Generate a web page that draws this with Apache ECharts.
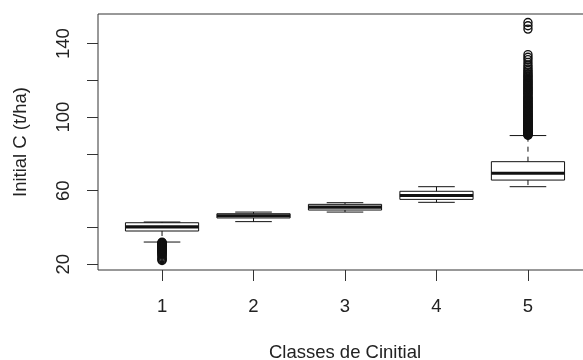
<!DOCTYPE html>
<html>
<head>
<meta charset="utf-8">
<script src="https://cdn.jsdelivr.net/npm/echarts@6/dist/echarts.min.js"></script>
<style>
  html, body { margin: 0; padding: 0; background: #fff; }
  #chart { width: 583px; height: 360px; }
</style>
</head>
<body>
<div id="chart"></div>
<script>
// Classes of initial carbon stock and their box statistics (t/ha)
const classes = [1, 2, 3, 4, 5];
const whiskerLow  = [32.1, 43.2, 48.4, 53.7, 62.2];
const quart1      = [38.1, 45.2, 49.5, 55.3, 65.8];
const median      = [40.4, 46.4, 51.1, 57.4, 69.5];
const quart3      = [42.6, 47.5, 52.6, 59.7, 75.8];
const whiskerHigh = [43.0, 48.4, 53.5, 62.2, 90.0];

// Outlying observations per class
const outliersClass1 = [32.0, 31.8, 31.6, 31.4, 31.2, 31.0, 30.8, 30.6, 30.4, 30.2,
  30.0, 29.8, 29.6, 29.4, 29.2, 29.0, 28.8, 28.5, 28.3, 28.1, 27.8, 27.6, 27.3,
  27.1, 26.8, 26.5, 26.1, 25.8, 25.4, 24.9, 24.3, 23.6, 23.0, 22.5, 22.1];
const outliersClass5 = [90.2, 90.4, 90.6, 90.9, 91.1, 91.3, 91.6, 91.8, 92.1, 92.3,
  92.6, 92.9, 93.1, 93.4, 93.7, 94.0, 94.2, 94.5, 94.8, 95.1, 95.4, 95.7, 96.0,
  96.3, 96.6, 96.9, 97.2, 97.6, 97.9, 98.2, 98.5, 98.9, 99.2, 99.6, 99.9, 100.3,
  100.6, 101.0, 101.3, 101.7, 102.1, 102.4, 102.8, 103.2, 103.6, 104.0, 104.4,
  104.8, 105.2, 105.6, 106.0, 106.4, 106.9, 107.3, 107.7, 108.2, 108.6, 109.1,
  109.5, 110.0, 110.5, 110.9, 111.3, 112.2, 112.6, 113.1, 113.6, 114.1, 114.6,
  115.1, 115.6, 116.1, 116.6, 117.2, 117.7, 118.3, 118.8, 119.4, 119.9, 120.5,
  121.1, 121.8, 122.4, 123.0, 123.7, 124.5, 125.3, 126.2, 127.3, 128.4, 129.8,
  131.3, 132.6, 134.0, 147.9, 149.7, 151.5];

// Axis ticks and labels
const yTicks = [20, 40, 60, 80, 100, 120, 140];
const yLabels = [20, 60, 100, 140];

const boxData = classes.map((c, i) =>
  [c, whiskerLow[i], quart1[i], median[i], quart3[i], whiskerHigh[i]]);
const outlierData = []
  .concat(outliersClass1.map(v => [1, v]))
  .concat(outliersClass5.map(v => [5, v]));

const ink = '#111';
const textColor = '#222';
const fontFamily = "'Liberation Sans', Arial, sans-serif";
const fontSize = 18.5;

function renderBox(params, api) {
  const x = api.value(0);
  const pLow = api.coord([x, api.value(1)]);
  const pQ1 = api.coord([x, api.value(2)]);
  const pMed = api.coord([x, api.value(3)]);
  const pQ3 = api.coord([x, api.value(4)]);
  const pHigh = api.coord([x, api.value(5)]);
  const halfBox = api.size([0.8, 0])[0] / 2;
  const halfCap = halfBox / 2;
  const cx = pMed[0];
  const thin = { stroke: ink, lineWidth: 1, fill: null };
  const dashed = { stroke: ink, lineWidth: 1, lineDash: [5, 5] };
  return {
    type: 'group',
    children: [
      { type: 'line', shape: { x1: cx, y1: pQ3[1], x2: cx, y2: pHigh[1] }, style: dashed },
      { type: 'line', shape: { x1: cx, y1: pQ1[1], x2: cx, y2: pLow[1] }, style: dashed },
      { type: 'line', shape: { x1: cx - halfCap, y1: pHigh[1], x2: cx + halfCap, y2: pHigh[1] }, style: thin },
      { type: 'line', shape: { x1: cx - halfCap, y1: pLow[1], x2: cx + halfCap, y2: pLow[1] }, style: thin },
      { type: 'rect', shape: { x: cx - halfBox, y: pQ3[1], width: 2 * halfBox, height: pQ1[1] - pQ3[1] }, style: thin },
      { type: 'line', shape: { x1: cx - halfBox, y1: pMed[1], x2: cx + halfBox, y2: pMed[1] },
        style: { stroke: ink, lineWidth: 3.2 } }
    ]
  };
}

const chart = echarts.init(document.getElementById('chart'), null, { renderer: 'canvas' });
chart.setOption({
  animation: false,
  backgroundColor: '#fff',
  grid: {
    left: 98, top: 14, right: -9, bottom: 90,
    containLabel: false,
    outerBoundsMode: 'none',
    show: true, borderColor: '#333', borderWidth: 1, backgroundColor: 'transparent'
  },
  xAxis: {
    type: 'value',
    min: 0.3, max: 5.7,
    name: 'Classes de Cinitial',
    nameLocation: 'middle',
    nameGap: 73,
    nameTextStyle: { color: textColor, fontSize: fontSize, fontFamily: fontFamily },
    axisLine: { show: false },
    axisTick: { show: true, inside: false, length: 11, customValues: classes,
      lineStyle: { color: '#333', width: 1 } },
    axisLabel: { customValues: classes, margin: 27, color: textColor, fontSize: fontSize, fontFamily: fontFamily },
    splitLine: { show: false }
  },
  yAxis: {
    type: 'value',
    min: 16.9, max: 156.1,
    name: 'Initial C (t/ha)',
    nameLocation: 'middle',
    nameGap: 68,
    nameRotate: 90,
    nameTextStyle: { color: textColor, fontSize: fontSize, fontFamily: fontFamily },
    axisLine: { show: false },
    axisTick: { show: true, inside: false, length: 11, customValues: yTicks,
      lineStyle: { color: '#333', width: 1 } },
    axisLabel: { customValues: yLabels, rotate: 90, margin: 25, color: textColor, fontSize: fontSize, fontFamily: fontFamily },
    splitLine: { show: false }
  },
  series: [
    {
      type: 'custom',
      renderItem: renderBox,
      data: boxData,
      encode: { x: 0, y: [1, 2, 3, 4, 5] },
      clip: true,
      z: 2
    },
    {
      type: 'scatter',
      data: outlierData,
      symbol: 'circle',
      symbolSize: 8,
      itemStyle: { color: 'transparent', borderColor: ink, borderWidth: 1.4, opacity: 1 },
      z: 3
    }
  ]
});
</script>
</body>
</html>
